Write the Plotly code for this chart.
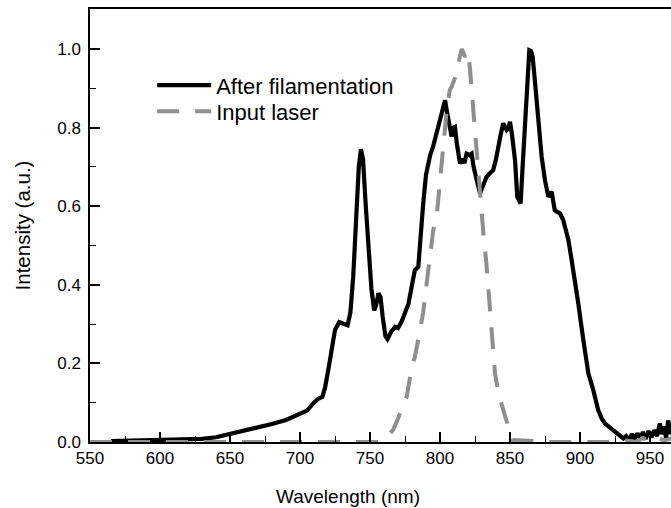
import plotly.graph_objects as go

# After filamentation spectrum (wavelength nm, intensity a.u.)
after_wl = [565, 580, 600, 615, 630, 640, 650, 660, 670, 680, 690, 700, 705, 710, 713, 716, 718, 721, 723,
            725, 728, 731, 734, 736, 738, 740, 742, 743.5, 745, 747, 749, 751, 753, 754.5, 756, 757.5, 759,
            761, 762.5, 765, 768, 770, 772.5, 775, 777.5, 780, 782, 784.5, 786, 788, 790, 791.7, 793, 795,
            797, 800, 802.4, 803.6, 805, 806, 808.3, 809.5, 810.7, 812, 814.3, 816, 817.5, 819, 821, 822.6,
            824, 826, 828.6, 831, 833.3, 836, 838, 840, 841.7, 843.5, 845.2, 846.5, 847.6, 849, 850, 851.5,
            853.6, 855.2, 857.6, 859, 860.7, 862.5, 863.8, 865, 866.2, 867.5, 869, 871, 872.6, 875, 877.4,
            878.5, 879.8, 881, 882, 884, 885.7, 888, 890, 891.7, 893.5, 895.2, 898.8, 902.4, 906, 909.5,
            913, 915.5, 917.9, 921, 923.8, 927, 931, 933, 935, 937, 939, 941, 943, 945, 947, 949, 951, 953,
            955, 957, 958.5, 960, 961.5, 963, 964.5, 966]
after_val = [0.002, 0.003, 0.005, 0.005, 0.008, 0.012, 0.02, 0.028, 0.038, 0.046, 0.056, 0.072, 0.08, 0.1,
             0.11, 0.115, 0.14, 0.2, 0.25, 0.285, 0.305, 0.3, 0.297, 0.33, 0.42, 0.56, 0.7, 0.745, 0.72, 0.6,
             0.48, 0.39, 0.335, 0.35, 0.378, 0.37, 0.32, 0.27, 0.262, 0.28, 0.293, 0.29, 0.306, 0.33, 0.352,
             0.4, 0.437, 0.446, 0.52, 0.607, 0.68, 0.717, 0.73, 0.751, 0.78, 0.828, 0.853, 0.87, 0.84, 0.819,
             0.777, 0.8, 0.802, 0.76, 0.709, 0.72, 0.71, 0.734, 0.73, 0.734, 0.7, 0.67, 0.633, 0.655, 0.675,
             0.685, 0.692, 0.72, 0.76, 0.785, 0.811, 0.8, 0.794, 0.8, 0.815, 0.78, 0.717, 0.624, 0.607, 0.7,
             0.819, 0.93, 0.997, 0.995, 0.98, 0.93, 0.862, 0.8, 0.726, 0.666, 0.624, 0.63, 0.637, 0.61, 0.59,
             0.585, 0.582, 0.565, 0.54, 0.514, 0.475, 0.437, 0.352, 0.259, 0.174, 0.132, 0.081, 0.06, 0.047,
             0.038, 0.03, 0.02, 0.009, 0.015, 0.005, 0.02, 0.008, 0.022, 0.01, 0.025, 0.008, 0.028, 0.012,
             0.03, 0.015, 0.047, 0.02, 0.04, 0.01, 0.055, 0.02, 0.045]

# Input laser spectrum
laser_wl = [550, 600, 650, 700, 740, 757, 762, 766.7, 770, 773, 776.2, 779.8, 782, 785, 788, 790, 791.7,
            793.5, 795.2, 797.6, 800, 802.4, 804.8, 807, 808.3, 810, 811.9, 813.5, 815.5, 816.8, 817.9,
            819, 820.2, 821.4, 822.6, 825, 827.4, 829.8, 831, 833, 835, 837, 839.3, 842, 845.2, 847.6,
            849.5, 852, 880, 920, 930, 940, 945, 950, 955, 960, 966]
laser_val = [0.0, 0.0, 0.0, 0.0, 0.0, 0.0, 0.012, 0.032, 0.06, 0.085, 0.115, 0.19, 0.216, 0.27, 0.33, 0.39,
             0.446, 0.5, 0.54, 0.573, 0.66, 0.76, 0.845, 0.896, 0.904, 0.92, 0.938, 0.97, 1.0, 0.99, 0.98,
             0.99, 0.993, 0.95, 0.896, 0.785, 0.683, 0.573, 0.53, 0.46, 0.36, 0.276, 0.174, 0.12, 0.081,
             0.047, 0.03, 0.005, 0.0, 0.0, 0.005, 0.0, 0.01, 0.002, 0.012, 0.004, 0.01]

x_range = [550, 965]
y_range = [0, 1.102]

FONT = "Liberation Sans, Arial, sans-serif"
LEG_FONT = dict(size=22, family=FONT, color="#000")

fig = go.Figure()
fig.add_trace(go.Scatter(x=after_wl, y=after_val, mode="lines", name="After filamentation",
                         line=dict(color="#000000", width=4.2), legend="legend"))
fig.add_trace(go.Scatter(x=laser_wl, y=laser_val, mode="lines", name="Input laser",
                         line=dict(color="#8e8e8e", width=4, dash="22px,16px"), legend="legend2"))

fig.update_layout(
    width=671, height=508,
    margin=dict(l=90, r=0, t=9, b=66, autoexpand=False),
    plot_bgcolor="white", paper_bgcolor="white",
    font=dict(family=FONT, color="#000000"),
    showlegend=True,
    legend=dict(x=0.107, y=0.872, xanchor="left", yanchor="top",
                bgcolor="rgba(0,0,0,0)", font=LEG_FONT, itemwidth=54),
    legend2=dict(x=0.107, y=0.812, xanchor="left", yanchor="top",
                 bgcolor="rgba(0,0,0,0)", font=LEG_FONT, itemwidth=54),
    xaxis=dict(range=x_range, dtick=50, tick0=550, ticks="inside", ticklen=10, tickwidth=1.5,
               tickcolor="#000", showline=True, linecolor="#000", linewidth=1.5, mirror=True,
               showgrid=False, zeroline=False, tickfont=dict(size=17), automargin=False,
               minor=dict(dtick=25, ticks="inside", ticklen=6, tickwidth=1.2, tickcolor="#000")),
    yaxis=dict(range=y_range, dtick=0.2, tick0=0, ticks="inside", ticklen=10, tickwidth=1.5,
               tickcolor="#000", showline=True, linecolor="#000", linewidth=1.5, mirror=False,
               showgrid=False, zeroline=False, tickformat=".1f", tickfont=dict(size=17),
               ticklabelstandoff=4, automargin=False,
               title=dict(text="Intensity (a.u.)", font=dict(size=20.5), standoff=21),
               minor=dict(dtick=0.1, ticks="inside", ticklen=6, tickwidth=1.2, tickcolor="#000")),
    annotations=[dict(text="Wavelength (nm)", xref="paper", yref="paper", x=0.444, y=-0.125,
                      xanchor="center", yanchor="middle", showarrow=False,
                      font=dict(size=19, family=FONT))],
)

fig.write_html("out.html", config={"displayModeBar": False},
               post_script="document.body.style.margin='0';document.body.style.overflow='hidden';")
